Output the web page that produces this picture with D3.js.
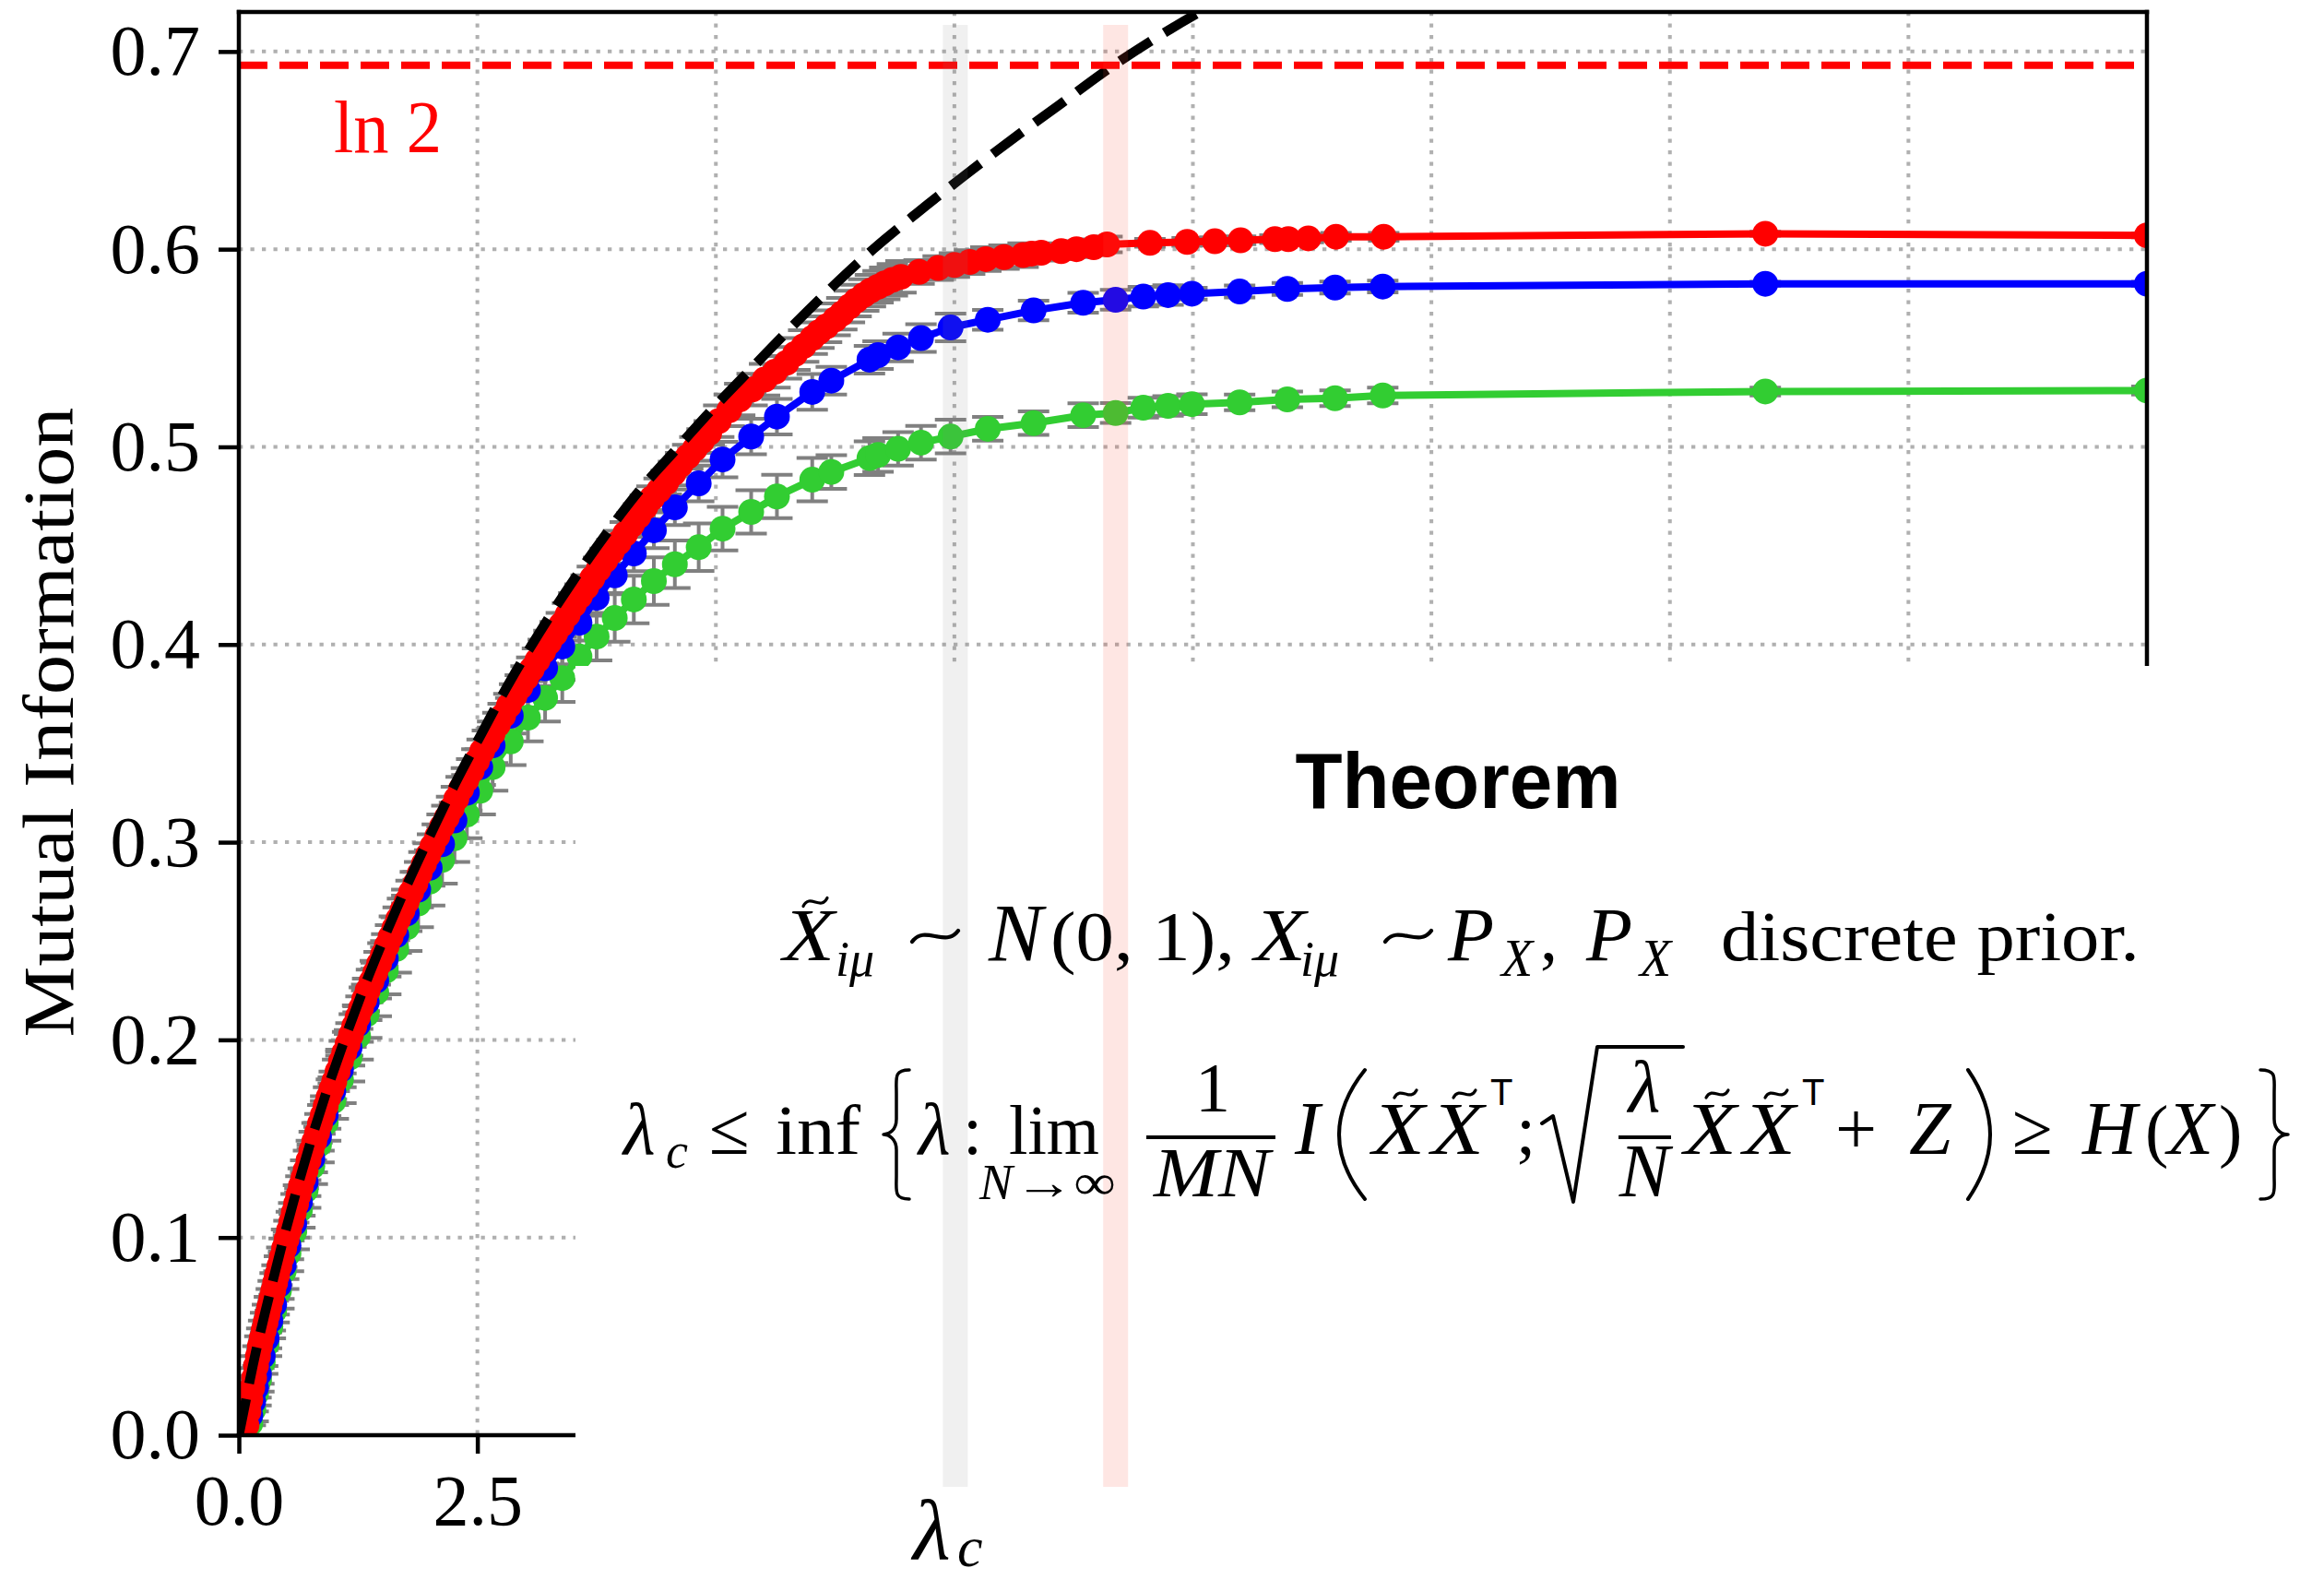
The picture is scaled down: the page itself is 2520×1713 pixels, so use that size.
<!DOCTYPE html>
<meta charset="utf-8">
<style>
body { margin: 0; background: #fff; }
svg { display: block; background: #fff; }
</style>
<svg width="2520" height="1713"></svg>
<script src="https://d3js.org/d3.v7.min.js"></script>
<script>

// ---- data ----
var theoryLam = [0, 0.05, 0.15, 0.3, 0.45, 0.6, 0.75, 0.9, 1.1, 1.3, 1.5, 1.75, 2.0, 2.25, 2.5, 2.85, 3.15, 3.5, 3.85, 4.2, 4.55, 5.0, 5.4, 5.8, 6.2, 6.65, 7.1, 7.6, 8.2, 8.6, 9.05, 9.55, 10.0, 10.5];
var theoryMI  = [0, 0.012, 0.036, 0.067, 0.096, 0.123, 0.148, 0.171, 0.199, 0.225, 0.249, 0.277, 0.303, 0.328, 0.351, 0.382, 0.406, 0.432, 0.456, 0.478, 0.497, 0.521, 0.541, 0.561, 0.580, 0.600, 0.618, 0.637, 0.659, 0.673, 0.689, 0.705, 0.718, 0.731];

var redLam = [0.08,0.10,0.12,0.14,0.16,0.18,0.20,0.22,0.24,0.26,0.28,0.30,0.32,0.34,0.36,0.38,0.40,
  0.425,0.45,0.475,0.50,0.525,0.55,0.575,0.60,0.625,0.65,0.675,0.70,
  0.73,0.76,0.79,0.82,0.85,0.88,0.91,0.94,0.97,1.00,
  1.035,1.07,1.105,1.14,1.175,1.21,1.245,1.28,1.315,1.35,1.39,1.43,1.47,1.51,1.55,1.59,1.63,1.67,
  1.715,1.76,1.805,1.85,1.895,1.94,1.985,2.03,2.08,2.13,2.18,2.23,2.28,2.33,
  2.385,2.44,2.495,2.55,2.605,2.66,2.715,2.77,2.83,2.89,2.95,3.01,3.07,3.13,3.19,3.25,
  3.315,3.38,3.445,3.51,3.575,3.64,3.705,3.77,3.84,3.91,3.98,4.05,4.12,4.19,4.26,4.33,
  4.405,4.48,4.555,4.63,4.705,4.78,4.855,4.93,
  5.03,5.14,5.25,5.38,5.51,5.62,5.74,5.83,5.92,6.01,6.08,6.16,6.25,6.32,6.40,6.47,6.55,6.62,6.70,6.77,6.85,6.94,
  7.13,7.33,7.50,7.66,7.83,8.02,8.22,8.31,8.41,8.62,8.78,8.96,9.10,
  9.55,9.94,10.23,10.50,10.86,11.00,11.21,11.50,12.0,16.0,20.0];
var redMI = [0.005,0.012,0.018,0.024,0.029,0.035,0.040,0.045,0.049,0.053,0.057,0.061,0.065,0.069,0.073,0.077,0.081,
  0.0855,0.090,0.0945,0.099,0.1035,0.108,0.1125,0.117,0.1215,0.126,0.130,0.134,
  0.139,0.144,0.1485,0.153,0.1575,0.162,0.1665,0.171,0.175,0.179,
  0.184,0.189,0.1935,0.198,0.2025,0.207,0.2115,0.216,0.2205,0.225,0.2295,0.234,0.2385,0.243,0.2475,0.252,0.2565,0.261,
  0.2655,0.270,0.2745,0.279,0.284,0.289,0.2935,0.298,0.303,0.308,0.3125,0.317,0.322,0.327,
  0.3315,0.336,0.341,0.346,0.3505,0.355,0.3595,0.364,0.369,0.374,0.3785,0.383,0.3875,0.392,0.3965,0.401,
  0.4055,0.410,0.415,0.420,0.4245,0.429,0.4335,0.438,0.4425,0.447,0.4515,0.456,0.4605,0.465,0.4695,0.474,
  0.478,0.482,0.4865,0.491,0.495,0.499,0.503,0.507,
  0.513,0.5185,0.524,0.529,0.534,0.538,0.5425,0.547,0.551,0.555,0.558,0.561,0.5645,0.5674,0.571,0.574,0.5768,0.579,0.581,0.5827,0.5845,0.586,
  0.5885,0.5905,0.592,0.5935,0.595,0.596,0.597,0.5978,0.5982,0.599,0.600,0.601,0.6024,
  0.6032,0.6037,0.604,0.6045,0.6051,0.6051,0.6055,0.6063,0.6063,0.6078,0.607];
// red error bar half-height, by lambda range
var redErrUpTo = [1.0, 4.95, 6.95, 8.25, 9.2, 12.1, 20];
var redErrSize = [0.005, 0.006, 0.008, 0.006, 0.004, 0.002, 0.001];

// blue and green runs share the same lambda grid
var gridLam = [0.12,0.15,0.18,0.21,0.25,0.29,0.33,0.37,0.42,0.47,0.52,0.58,0.64,0.70,0.77,0.84,0.91,0.99,
  1.07,1.16,1.25,1.34,1.44,1.54,1.65,1.76,1.88,2.00,2.13,2.26,2.39,2.53,2.66,2.85,3.03,3.21,
  3.39,3.57,3.75,3.94,4.14,4.35,4.57,4.82,5.07,5.37,5.64,6.01,6.21,6.61,6.70,6.91,7.15,7.46,
  7.85,8.33,8.85,9.19,9.48,9.74,9.99,10.49,10.99,11.49,11.99,16.0,20.0];
var blueMI = [0.010,0.017,0.024,0.031,0.040,0.049,0.058,0.066,0.076,0.086,0.096,0.107,0.118,0.128,0.140,0.151,0.162,0.174,
  0.185,0.196,0.208,0.219,0.230,0.241,0.253,0.264,0.276,0.287,0.299,0.311,0.325,0.338,0.349,0.364,0.377,0.388,
  0.399,0.411,0.4236,0.435,0.4461,0.4578,0.4694,0.4815,0.4936,0.5052,0.5153,0.5278,0.5335,0.5441,0.5464,0.5503,0.5550,0.5604,
  0.5643,0.5690,0.5729,0.5744,0.5760,0.5768,0.5775,0.5786,0.5799,0.5806,0.5811,0.5825,0.5825];
var blueErr = [0.005,0.005,0.005,0.005,0.005,0.005,0.005,0.005,0.007,0.007,0.007,0.007,0.007,0.007,0.007,0.007,0.007,0.007,
  0.009,0.009,0.009,0.009,0.009,0.009,0.009,0.009,0.009,0.009,0.009,0.009,0.009,0.009,0.009,0.009,0.009,0.009,
  0.009,0.009,0.009,0.009,0.009,0.009,0.009,0.009,0.009,0.009,0.009,0.009,0.007,0.007,0.007,0.007,0.007,0.007,
  0.005,0.005,0.005,0.005,0.005,0.005,0.003,0.003,0.003,0.003,0.003,0.001,0.001];
var greenMI = [0.006,0.013,0.021,0.028,0.037,0.046,0.055,0.063,0.073,0.083,0.092,0.103,0.114,0.124,0.136,0.147,0.158,0.169,
  0.180,0.191,0.202,0.213,0.224,0.235,0.246,0.257,0.269,0.280,0.291,0.302,0.314,0.326,0.338,0.351,0.363,0.373,
  0.383,0.394,0.404,0.4134,0.4228,0.4321,0.4406,0.4492,0.4586,0.4671,0.4749,0.4834,0.4873,0.4943,0.4959,0.4990,0.5021,0.5052,
  0.5091,0.5120,0.5160,0.5171,0.5198,0.5207,0.5216,0.5225,0.5240,0.5246,0.5260,0.5280,0.5285];
var greenErr = [0.006,0.006,0.006,0.006,0.006,0.006,0.006,0.006,0.009,0.009,0.009,0.009,0.009,0.009,0.009,0.009,0.009,0.009,
  0.012,0.012,0.012,0.012,0.012,0.012,0.012,0.012,0.012,0.012,0.012,0.012,0.012,0.012,0.012,0.012,0.012,0.012,
  0.012,0.012,0.012,0.012,0.012,0.012,0.012,0.012,0.011,0.011,0.011,0.011,0.0085,0.0085,0.0085,0.0085,0.0085,0.0085,
  0.006,0.006,0.006,0.005,0.005,0.005,0.005,0.004,0.004,0.004,0.004,0.002,0.002];

var ln2 = 0.6931;
var bandLam = [7.51, 9.19];          // lambda_c marker and the ln 2 crossing
var xTicks = [0, 2.5, 5, 7.5, 10, 12.5, 15, 17.5, 20];
var yTicks = [0, 0.1, 0.2, 0.3, 0.4, 0.5, 0.6, 0.7];

// ---- layout ----
var serif = '"Liberation Serif", "DejaVu Serif", serif';
var sans = '"Liberation Sans", Arial, sans-serif';

var svg = d3.select("svg");
var L = 259, R = 2328, T = 13, B = 1556;

var x = d3.scaleLinear().domain([0, 20]).range([L, R]);
var y = d3.scaleLinear().domain([0, 0.72]).range([B, T]);

svg.append("defs").append("clipPath").attr("id", "plot")
  .append("rect").attr("x", L).attr("y", T).attr("width", R - L).attr("height", B - T);

// grid
var grid = svg.append("g");
grid.selectAll(".gy").data(yTicks).enter().append("line")
  .attr("x1", L).attr("x2", R).attr("y1", y).attr("y2", y);
grid.selectAll(".gx").data(xTicks).enter().append("line")
  .attr("x1", x).attr("x2", x).attr("y1", T).attr("y2", B);
grid.selectAll("line")
  .attr("stroke", "#b0b0b0").attr("stroke-width", 4).attr("stroke-dasharray", "4.3 8.2");

// data
var plot = svg.append("g").attr("clip-path", "url(#plot)");

var redErr = redLam.map(function(l) { return redErrSize[d3.bisectLeft(redErrUpTo, l)]; });

var series = [
  {lam: gridLam, mi: greenMI, err: greenErr, color: "#32cd32"},
  {lam: gridLam, mi: blueMI, err: blueErr, color: "#0000ff"},
  {lam: redLam, mi: redMI, err: redErr, color: "#ff0000"}
];

// error bars under all the lines
series.forEach(function(s) {
  var g = plot.append("g").attr("stroke", "#808080").attr("stroke-width", 4);
  s.lam.forEach(function(l, i) {
    var cx = x(l), lo = y(s.mi[i] - s.err[i]), hi = y(s.mi[i] + s.err[i]);
    g.append("line").attr("x1", cx).attr("x2", cx).attr("y1", lo).attr("y2", hi);
    g.append("line").attr("x1", cx - 17).attr("x2", cx + 17).attr("y1", lo).attr("y2", lo);
    g.append("line").attr("x1", cx - 17).attr("x2", cx + 17).attr("y1", hi).attr("y2", hi);
  });
});

series.forEach(function(s) {
  var pts = s.lam.map(function(l, i) { return [l, s.mi[i]]; });
  plot.append("path").datum(pts)
    .attr("fill", "none").attr("stroke", s.color).attr("stroke-width", 8)
    .attr("stroke-linejoin", "round")
    .attr("d", d3.line().x(function(d) { return x(d[0]); }).y(function(d) { return y(d[1]); }));
  plot.append("g").selectAll("circle").data(pts).enter().append("circle")
    .attr("cx", function(d) { return x(d[0]); })
    .attr("cy", function(d) { return y(d[1]); })
    .attr("r", 14).attr("fill", s.color);
});

plot.append("path")
  .datum(theoryLam.map(function(l, i) { return [l, theoryMI[i]]; }))
  .attr("fill", "none").attr("stroke", "#000").attr("stroke-width", 10.5)
  .attr("stroke-dasharray", "40 17")
  .attr("d", d3.line().curve(d3.curveMonotoneX)
    .x(function(d) { return x(d[0]); }).y(function(d) { return y(d[1]); }));

plot.append("line")
  .attr("x1", L).attr("x2", R).attr("y1", y(ln2)).attr("y2", y(ln2))
  .attr("stroke", "#ff0000").attr("stroke-width", 8).attr("stroke-dasharray", "31 13");

// axes
var yAxis = svg.append("g").attr("transform", "translate(" + L + ",0)")
  .call(d3.axisLeft(y).tickValues(yTicks).tickFormat(d3.format(".1f")).tickSize(22).tickPadding(20));
var xAxis = svg.append("g").attr("transform", "translate(0," + B + ")")
  .call(d3.axisBottom(x).tickValues(xTicks).tickFormat(d3.format(".1f")).tickSize(20).tickPadding(22));
[yAxis, xAxis].forEach(function(a) {
  a.select(".domain").remove();
  a.selectAll(".tick line").attr("stroke", "#000").attr("stroke-width", 4.5);
  a.selectAll(".tick text").attr("fill", "#000")
    .style("font-family", serif).style("font-size", "78px");
});

// spines
var sp = svg.append("g").attr("stroke", "#000").attr("stroke-width", 4.5).attr("stroke-linecap", "square");
sp.append("line").attr("x1", L).attr("x2", L).attr("y1", T).attr("y2", B);
sp.append("line").attr("x1", L).attr("x2", R).attr("y1", T).attr("y2", T);
sp.append("line").attr("x1", R).attr("x2", R).attr("y1", T).attr("y2", B);
sp.append("line").attr("x1", L).attr("x2", R).attr("y1", B).attr("y2", B);

// white inset covering the lower right
svg.append("rect").attr("x", 624).attr("y", 722).attr("width", 2520 - 624).attr("height", 1713 - 722).attr("fill", "#fff");

// lambda bands
var bandCol = ["rgba(128,128,128,0.12)", "rgba(250,80,60,0.14)"];
svg.selectAll(".band").data(bandLam).enter().append("rect")
  .attr("x", function(d) { return x(d) - 13.5; }).attr("width", 27)
  .attr("y", 27).attr("height", 1612 - 27)
  .attr("fill", function(d, i) { return bandCol[i]; });

// ---- text ----
var ann = svg.append("g").attr("fill", "#000");
function tx(px, py, s, o) {
  o = o || {};
  var t = ann.append("text").attr("x", px).attr("y", py).text(s)
    .style("font-family", o.sans ? sans : serif)
    .style("font-size", (o.size || 76) + "px")
    .style("font-style", o.it ? "italic" : "normal")
    .style("font-weight", o.bold ? "bold" : "normal")
    .attr("text-anchor", o.anchor || "start");
  if (o.len) t.attr("textLength", o.len).attr("lengthAdjust", "spacingAndGlyphs");
  if (o.fill) t.attr("fill", o.fill);
  return t;
}
function stroke(d, w) {
  ann.append("path").attr("d", d).attr("fill", "none").attr("stroke", "#000")
    .attr("stroke-width", w || 4).attr("stroke-linecap", "round").attr("stroke-linejoin", "round");
}
function wave(cx, cy, hw, a, w) {   // tilde accents and the \sim relation
  stroke("M" + (cx - hw) + "," + (cy + a * 0.5) + " C" + (cx - hw * 0.45) + "," + (cy - a * 1.1) + " " + (cx + hw * 0.45) + "," + (cy + a * 1.1) + " " + (cx + hw) + "," + (cy - a * 0.5), w);
}
function brace(xa, xb, yt, yb) {   // arms at xa, tip at xb
  var w = xb - xa, h = yb - yt, ym = (yt + yb) / 2, xm = xa + w * 0.5;
  stroke("M" + xa + "," + yt + " C" + (xa + w * 0.6) + "," + yt + " " + xm + "," + (yt + h * 0.06) + " " + xm + "," + (yt + h * 0.18) +
    " L" + xm + "," + (ym - h * 0.12) + " C" + xm + "," + (ym - h * 0.03) + " " + (xb - w * 0.2) + "," + ym + " " + xb + "," + ym +
    " C" + (xb - w * 0.2) + "," + ym + " " + xm + "," + (ym + h * 0.03) + " " + xm + "," + (ym + h * 0.12) +
    " L" + xm + "," + (yb - h * 0.18) + " C" + xm + "," + (yb - h * 0.06) + " " + (xa + w * 0.6) + "," + yb + " " + xa + "," + yb, 3.5);
}
function paren(xa, xb, yt, yb) {   // ends at xa, bulge at xb
  stroke("M" + xa + "," + yt + " Q" + (2 * xb - xa) + "," + ((yt + yb) / 2) + " " + xa + "," + yb, 4);
}

// axis label and ln 2
tx(0, 0, "Mutual Information", {size: 78, len: 683, anchor: "middle"})
  .attr("transform", "translate(79,783) rotate(-90)");
tx(362, 165, "ln 2", {size: 80, len: 117, fill: "#ff0000"});

// lambda_c under the gray band
tx(990, 1690, "λ", {size: 94, it: true});
tx(1038, 1698, "c", {size: 62, it: true});

// theorem box
tx(1581, 876, "Theorem", {sans: true, bold: true, size: 85, anchor: "middle", len: 353});

// line 1
var b1 = 1041, s1 = 1058;
tx(849, b1, "X", {it: true, size: 80, len: 56}); wave(884, 978, 13, 9, 3.2);
tx(906, s1, "iμ", {it: true, size: 54});
wave(1014, b1 - 26, 25, 12, 4.2);
tx(1072, b1, "N", {it: true, size: 88});
tx(1139, b1, "(0, 1),", {len: 200});
tx(1360, b1, "X", {it: true, size: 80, len: 56});
tx(1410, s1, "iμ", {it: true, size: 54});
wave(1527, b1 - 26, 25, 12, 4.2);
tx(1570, b1, "P", {it: true, size: 82});
tx(1628, s1, "X", {it: true, size: 56});
tx(1670, b1, ",");
tx(1720, b1, "P", {it: true, size: 82});
tx(1778, s1, "X", {it: true, size: 56});
tx(1866, b1, "discrete prior.", {len: 454});

// line 2
var b2 = 1251;
tx(676, b2, "λ", {it: true, size: 80});
tx(722, b2 + 15, "c", {it: true, size: 54});
tx(769, b2, "≤", {size: 80});
tx(841, b2, "inf", {len: 92});
brace(986, 958, 1160, 1300);
tx(996, b2, "λ", {it: true, size: 80});
tx(1044, b2, ":");
tx(1094, b2, "lim", {len: 98});
tx(1062, 1300, "N", {it: true, size: 54});
tx(1100, 1300, "→∞", {size: 54, len: 110});
ann.append("line").attr("x1", 1243).attr("x2", 1383).attr("y1", 1233).attr("y2", 1233).attr("stroke", "#000").attr("stroke-width", 4);
tx(1315, 1205, "1", {anchor: "middle"});
tx(1314, 1297, "MN", {it: true, anchor: "middle", len: 126});
tx(1404, b2, "I", {it: true, size: 82});
paren(1480, 1452, 1160, 1300);
tx(1488, b2, "X", {it: true, size: 80, len: 57}); wave(1524, 1186, 12, 8, 3.2);
tx(1552, b2, "X", {it: true, size: 80, len: 57}); wave(1588, 1186, 12, 8, 3.2);
tx(1616, 1198, "T", {sans: true, size: 40});
tx(1644, b2, ";");
stroke("M1672,1218 L1684,1210 L1706,1303 L1732,1135 L1825,1135", 4);
tx(1783, 1205, "λ", {it: true, anchor: "middle", size: 80});
ann.append("line").attr("x1", 1755).attr("x2", 1812).attr("y1", 1233).attr("y2", 1233).attr("stroke", "#000").attr("stroke-width", 4);
tx(1783, 1297, "N", {it: true, anchor: "middle", size: 82});
tx(1826, b2, "X", {it: true, size: 80, len: 57}); wave(1862, 1186, 12, 8, 3.2);
tx(1890, b2, "X", {it: true, size: 80, len: 57}); wave(1926, 1186, 12, 8, 3.2);
tx(1954, 1198, "T", {sans: true, size: 40});
tx(1990, b2, "+", {size: 80});
tx(2070, b2, "Z", {it: true, size: 82});
paren(2134, 2158, 1160, 1300);
tx(2182, b2, "≥", {size: 80});
tx(2258, b2, "H", {it: true, size: 82});
tx(2326, b2, "(");
tx(2350, b2, "X", {it: true, size: 82});
tx(2406, b2, ")");
brace(2451, 2481, 1160, 1300);

</script>
